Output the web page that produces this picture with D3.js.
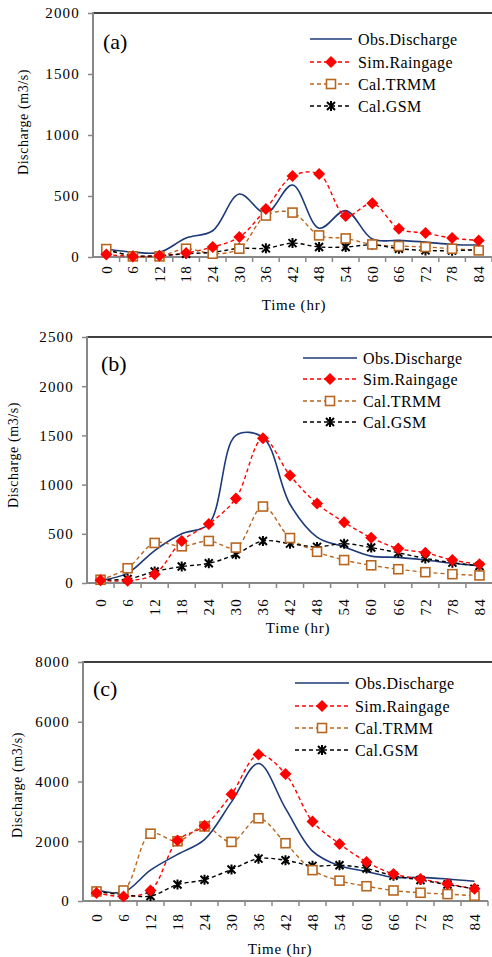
<!DOCTYPE html>
<html>
<head>
<meta charset="utf-8">
<script src="https://cdn.jsdelivr.net/npm/d3@7"></script>
<style>
  body { margin: 0; background: #fff; }
</style>
</head>
<body>
<svg width="492" height="957" style="font-family: 'Liberation Serif';"></svg>
<script>
const svg = d3.select('svg');

// time axis (hr)
const times = [0, 6, 12, 18, 24, 30, 36, 42, 48, 54, 60, 66, 72, 78, 84];
const seriesNames = ['Obs.Discharge', 'Sim.Raingage', 'Cal.TRMM', 'Cal.GSM'];

// (a)
const obsA  = [65, 40, 38, 155, 215, 516, 358, 590, 236, 380, 147, 136, 122, 103, 98];
const simA  = [20, 5, 10, 33, 82, 163, 394, 663, 680, 337, 440, 231, 196, 155, 136];
const trmmA = [65, 5, 5, 68, 27, 68, 340, 364, 177, 152, 103, 90, 82, 68, 54];
const gsmA  = [60, 11, 11, 27, 38, 71, 71, 114, 82, 82, 100, 68, 54, 52, 60];
const ticksA = [0, 500, 1000, 1500, 2000];

// (b)
const obsB  = [27, 100, 330, 500, 600, 1500, 1480, 800, 467, 367, 273, 260, 233, 200, 173];
const simB  = [27, 23, 90, 427, 600, 860, 1470, 1093, 807, 617, 460, 350, 307, 233, 190];
const trmmB = [33, 150, 407, 373, 427, 360, 777, 457, 317, 233, 180, 140, 110, 90, 77];
const gsmB  = [33, 40, 117, 167, 200, 293, 427, 400, 367, 400, 360, 307, 250, 207, 173];
const ticksB = [0, 500, 1000, 1500, 2000, 2500];

// (c)
const obsC  = [374, 297, 1033, 1560, 2055, 3319, 4600, 3100, 1670, 1176, 990, 790, 790, 736, 660];
const simC  = [264, 154, 352, 2022, 2517, 3572, 4900, 4250, 2660, 1912, 1308, 901, 736, 571, 407];
const trmmC = [319, 352, 2253, 2000, 2495, 1978, 2770, 1934, 1033, 681, 495, 352, 275, 231, 176];
const gsmC  = [319, 209, 165, 550, 714, 1055, 1418, 1363, 1176, 1198, 1088, 846, 703, 550, 407];
const ticksC = [0, 2000, 4000, 6000, 8000];

const FONT = 'Liberation Serif';

const styles = [
  { color: '#1c3a78', dash: null, marker: null },
  { color: '#ff0000', dash: '4,3', marker: 'diamond' },
  { color: '#b8661f', dash: '4,3', marker: 'square' },
  { color: '#000000', dash: '4,3', marker: 'star' }
];

const panels = [
  { tag: '(a)', series: [obsA, simA, trmmA, gsmA], ticks: ticksA,
    left: 93, right: 492, top: 13, bottom: 257, labelGap: 8,
    timeX: 294, timeY: 310, yLabX: 23, yLabY: 122, tagX: 103, tagY: 49,
    legX: 310, legLen: 42, legY: [39, 62, 84, 106] },
  { tag: '(b)', series: [obsB, simB, trmmB, gsmB], ticks: ticksB,
    left: 87, right: 493, top: 337, bottom: 583, labelGap: 15,
    timeX: 298, timeY: 633, yLabX: 13, yLabY: 455, tagX: 101, tagY: 371,
    legX: 303, legLen: 54, legY: [358, 379, 401, 422] },
  { tag: '(c)', series: [obsC, simC, trmmC, gsmC], ticks: ticksC,
    left: 83, right: 488, top: 662, bottom: 901, labelGap: 12,
    timeX: 280, timeY: 954, yLabX: 17, yLabY: 785, tagX: 93, tagY: 696,
    legX: 295, legLen: 54, legY: [683, 706, 728, 750] }
];

const drawMarker = (sel, type, color) => {
  if (type === 'diamond') {
    sel.append('path').attr('d', 'M0,-6L6,0L0,6L-6,0Z').attr('fill', color);
  } else if (type === 'square') {
    sel.append('rect').attr('x', -4.5).attr('y', -4.5).attr('width', 9).attr('height', 9)
      .attr('fill', '#fff').attr('stroke', color).attr('stroke-width', 1.6);
  } else if (type === 'star') {
    sel.append('path').attr('d', 'M-4,-4L4,4M-4,4L4,-4M0,-5L0,5')
      .attr('stroke', color).attr('stroke-width', 2);
  }
};

panels.forEach(p => {
  const xScale = d3.scaleBand().domain(times).range([p.left, p.right]);
  const yScale = d3.scaleLinear().domain([0, d3.max(p.ticks)]).range([p.bottom, p.top]);
  const cx = t => xScale(t) + xScale.bandwidth() / 2;

  const g = svg.append('g').attr('font-family', FONT);

  // top frame line
  g.append('line')
    .attr('x1', p.left).attr('x2', 492).attr('y1', p.top).attr('y2', p.top)
    .attr('stroke', '#000').attr('stroke-width', 1.5);

  // y axis
  const yAxisG = g.append('g')
    .attr('transform', `translate(${p.left},0)`)
    .call(d3.axisLeft(yScale).tickValues(p.ticks).tickSize(5).tickPadding(8).tickFormat(d3.format('d')));
  yAxisG.attr('font-family', FONT);
  yAxisG.select('.domain').remove();
  yAxisG.selectAll('.tick line').attr('stroke', '#888').attr('stroke-width', 1.5);
  yAxisG.selectAll('.tick text').attr('font-size', 15).attr('letter-spacing', '1.2px');
  g.append('line')
    .attr('x1', p.left).attr('x2', p.left).attr('y1', p.top - 1).attr('y2', p.bottom + 1)
    .attr('stroke', '#888').attr('stroke-width', 2);

  // x axis
  const xAxisG = g.append('g')
    .attr('transform', `translate(0,${p.bottom})`)
    .call(d3.axisBottom(xScale).tickSize(0).tickPadding(0));
  xAxisG.attr('font-family', FONT);
  xAxisG.select('.domain').remove();
  xAxisG.selectAll('.tick text')
    .attr('font-size', 15).attr('letter-spacing', '1.2px')
    .attr('text-anchor', 'end')
    .attr('transform', `translate(0,${p.labelGap}) rotate(-90)`)
    .attr('x', 0).attr('y', 0).attr('dy', '0.35em');
  g.append('line')
    .attr('x1', p.left).attr('x2', p.right).attr('y1', p.bottom).attr('y2', p.bottom)
    .attr('stroke', '#888').attr('stroke-width', 2);
  g.selectAll('.xtick')
    .data(times)
    .join('line')
    .attr('x1', (d, i) => p.left + (i + 1) * xScale.step())
    .attr('x2', (d, i) => p.left + (i + 1) * xScale.step())
    .attr('y1', p.bottom).attr('y2', p.bottom + 5)
    .attr('stroke', '#888').attr('stroke-width', 1.5);

  // axis titles
  g.append('text')
    .attr('x', p.timeX).attr('y', p.timeY)
    .attr('text-anchor', 'middle').attr('font-size', 15).attr('letter-spacing', '0.8px')
    .text('Time (hr)');
  g.append('text')
    .attr('transform', `translate(${p.yLabX},${p.yLabY}) rotate(-90)`)
    .attr('text-anchor', 'middle').attr('dy', '0.35em').attr('font-size', 14).attr('letter-spacing', '0.6px')
    .text('Discharge (m3/s)');

  // panel tag
  g.append('text')
    .attr('x', p.tagX).attr('y', p.tagY).attr('font-size', 22)
    .text(p.tag);

  // series
  const line = d3.line()
    .x((d, i) => cx(times[i]))
    .y(d => yScale(d))
    .curve(d3.curveCatmullRom.alpha(0.5));

  p.series.forEach((vals, k) => {
    const st = styles[k];
    g.append('path')
      .attr('d', line(vals))
      .attr('fill', 'none')
      .attr('stroke', st.color)
      .attr('stroke-width', k === 0 ? 1.6 : 1.4)
      .attr('stroke-dasharray', st.dash);
  });
  [3, 2, 1].forEach(k => {
    const st = styles[k];
    g.selectAll(null)
      .data(p.series[k])
      .join('g')
      .attr('transform', (d, i) => `translate(${cx(times[i])},${yScale(d)})`)
      .each(function() { drawMarker(d3.select(this), st.marker, st.color); });
  });

  // legend
  seriesNames.forEach((name, k) => {
    const st = styles[k];
    const y = p.legY[k];
    g.append('line')
      .attr('x1', p.legX).attr('x2', p.legX + p.legLen).attr('y1', y).attr('y2', y)
      .attr('stroke', st.color).attr('stroke-width', k === 0 ? 1.6 : 1.4)
      .attr('stroke-dasharray', st.dash);
    if (st.marker) {
      const mg = g.append('g').attr('transform', `translate(${p.legX + p.legLen / 2},${y})`);
      drawMarker(mg, st.marker, st.color);
    }
    g.append('text')
      .attr('x', p.legX + p.legLen + 6).attr('y', y).attr('dy', '0.35em')
      .attr('font-size', 16).attr('letter-spacing', '0.4px')
      .text(name);
  });
});
</script>
</body>
</html>
